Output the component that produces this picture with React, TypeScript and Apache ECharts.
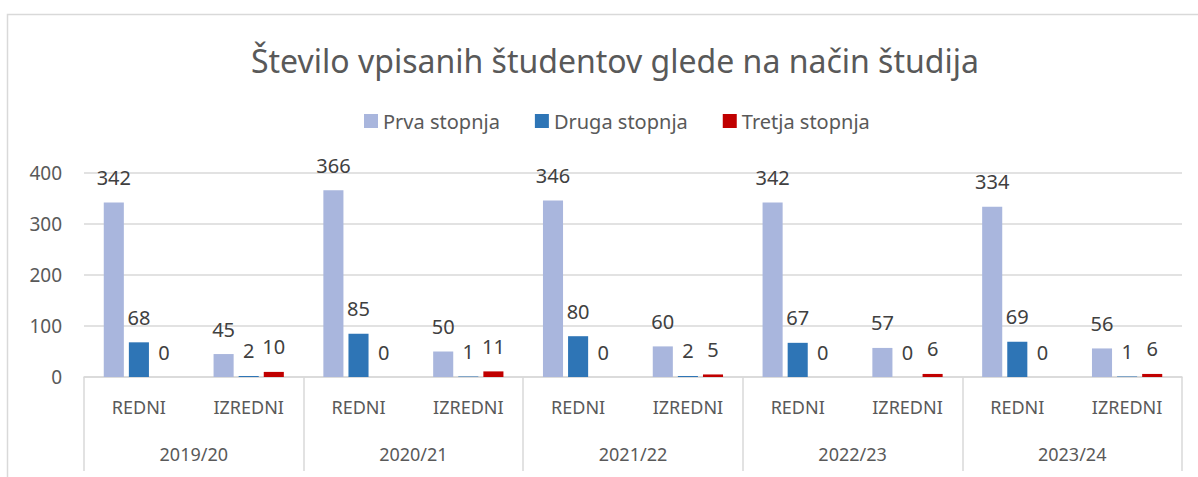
import React, { useEffect, useRef } from "react";
import * as echarts from "echarts";

const title = "Število vpisanih študentov glede na način študija";
const categories = ["REDNI", "IZREDNI", "REDNI", "IZREDNI", "REDNI", "IZREDNI", "REDNI", "IZREDNI", "REDNI", "IZREDNI"];
const years = ["2019/20", "2020/21", "2021/22", "2022/23", "2023/24"];
const prva = [342, 45, 366, 50, 346, 60, 342, 57, 334, 56];
const druga = [68, 2, 85, 1, 80, 2, 67, 0, 69, 1];
const tretja = [0, 10, 0, 11, 0, 5, 0, 6, 0, 6];
const yTicks = { min: 0, max: 400, interval: 100 };

const FONT = "'Noto Sans', sans-serif";
const TEXT = "#595959";
const LABEL = "#404040";
const GRID = "#d9d9d9";

export default function App() {
  const ref = useRef<HTMLDivElement>(null);
  useEffect(() => {
    if (!ref.current) return;
    const chart = echarts.init(ref.current, undefined, { renderer: "svg" });
    const labelCfg = {
      show: true,
      position: "top" as const,
      distance: 15,
      fontSize: 20,
      color: LABEL,
      fontFamily: FONT,
    };
    const mk = (name: string, data: number[], color: string) => ({
      name,
      type: "bar",
      xAxisIndex: 0,
      data,
      itemStyle: { color },
      label: labelCfg,
      barGap: "25%",
      barCategoryGap: "36%",
    });
    chart.setOption({
      animation: false,
      textStyle: { fontFamily: FONT },
      graphic: [
        {
          type: "rect",
          shape: { x: 7.5, y: 14.5, width: 1400, height: 600 },
          style: { fill: "none", stroke: GRID, lineWidth: 1.5 },
          silent: true,
          z: -10,
        },
      ],
      title: {
        text: title,
        left: 246,
        top: 39,
        textStyle: { fontSize: 32, fontWeight: "normal", color: TEXT, fontFamily: FONT },
      },
      legend: {
        top: 106,
        left: 359,
        itemWidth: 14,
        itemHeight: 14,
        itemGap: 35,
        icon: "rect",
        textStyle: { fontSize: 20, color: TEXT, fontFamily: FONT },
        data: ["Prva stopnja", "Druga stopnja", "Tretja stopnja"],
      },
      grid: { left: 84, right: 16, top: 173, bottom: 100, containLabel: false },
      xAxis: [
        {
          type: "category",
          data: categories,
          position: "bottom",
          axisLine: { show: true, lineStyle: { color: GRID, width: 1.5 } },
          axisTick: { show: false },
          axisLabel: { fontSize: 18, color: TEXT, margin: 21, fontFamily: FONT },
        },
        {
          type: "category",
          data: years,
          position: "bottom",
          axisLine: { show: false },
          axisTick: { show: true, length: 94, lineStyle: { color: GRID, width: 1.5 } },
          axisLabel: { fontSize: 18, color: TEXT, margin: 68, fontFamily: FONT },
        },
      ],
      yAxis: {
        type: "value",
        min: yTicks.min,
        max: yTicks.max,
        interval: yTicks.interval,
        axisLine: { show: false },
        axisTick: { show: false },
        axisLabel: { fontSize: 19, color: TEXT, margin: 22, fontFamily: FONT },
        splitLine: { lineStyle: { color: GRID, width: 1.5 } },
      },
      series: [
        mk("Prva stopnja", prva, "#a9b6dd"),
        mk("Druga stopnja", druga, "#2e75b6"),
        mk("Tretja stopnja", tretja, "#c00000"),
      ],
    });
    return () => chart.dispose();
  }, []);
  return (
    <div
      ref={ref}
      style={{ position: "absolute", left: 0, top: 0, width: 1198, height: 477, background: "#fff" }}
    />
  );
}
